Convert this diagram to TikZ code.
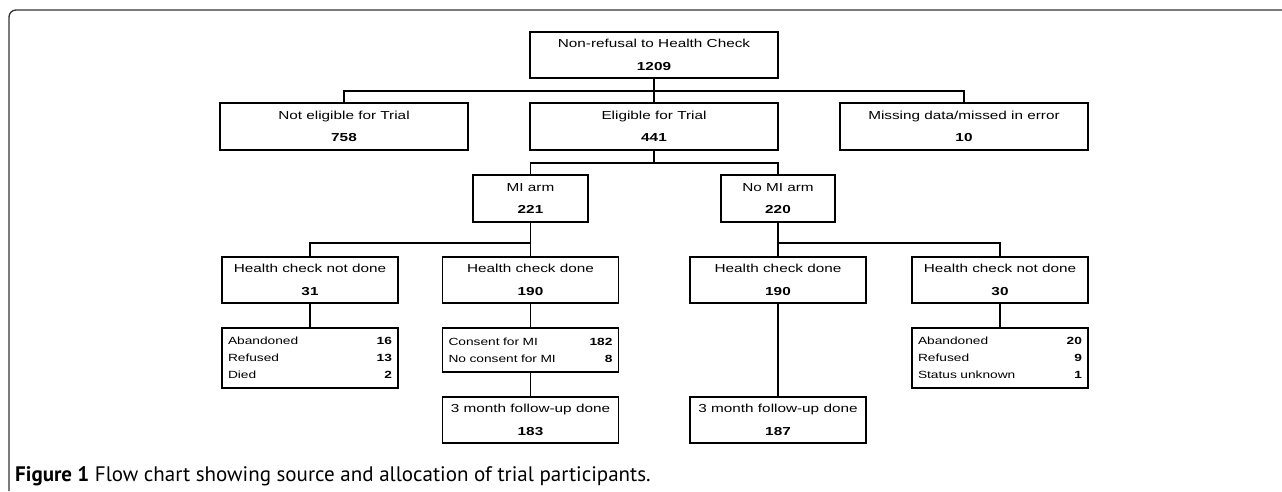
\documentclass[tikz,border=0pt]{standalone}
\usepackage{fontspec}
\setmainfont{Liberation Sans}
\newfontfamily\boxfont[FakeStretch=1.32]{Liberation Sans}
\newfontfamily\capfont{PT Sans}
\begin{document}
\begin{tikzpicture}[x=1pt,y=-1pt,
  titlebox/.style={draw=black, line width=1.8pt, inner sep=0pt, minimum height=46pt, align=center,
    font=\boxfont\fontsize{11.6}{22.5}\selectfont},
  listbox/.style={draw=black, line width=1.8pt, inner sep=0pt, align=left,
    font=\boxfont\fontsize{10.4}{17}\selectfont},
  conn/.style={line width=1.8pt, draw=black}]
\useasboundingbox (0,0) rectangle (1282,491);
% frame
\draw[line width=1.3pt, draw=black!80, rounded corners=7pt] (9,491) -- (9,10) -- (1282,10);

% row 1
\node[titlebox, minimum width=248pt] (top) at (654,55) {Non-refusal to Health Check\\\textbf{1209}};
% row 2
\node[titlebox, minimum width=248pt, minimum height=47pt] (notel) at (344,126.5) {Not eligible for Trial\\\textbf{758}};
\node[titlebox, minimum width=248pt, minimum height=47pt] (elig) at (654,126.5) {Eligible for Trial\\\textbf{441}};
\node[titlebox, minimum width=248pt, minimum height=47pt] (miss) at (964,126.5) {Missing data/missed in error\\\textbf{10}};
% row 3
\node[titlebox, minimum width=115pt, minimum height=47pt] (miarm) at (530.5,198.5) {MI arm\\\textbf{221}};
\node[titlebox, minimum width=114pt, minimum height=47pt] (nomiarm) at (778,198.5) {No MI arm\\\textbf{220}};
% row 4
\node[titlebox, minimum width=176pt] (hcnd1) at (310,280) {Health check not done\\\textbf{31}};
\node[titlebox, minimum width=176pt] (hcd1) at (530.5,280) {Health check done\\\textbf{190}};
\node[titlebox, minimum width=176pt] (hcd2) at (778,280) {Health check done\\\textbf{190}};
\node[titlebox, minimum width=176pt] (hcnd2) at (1000,280) {Health check not done\\\textbf{30}};
% row 5
\node[listbox, minimum width=176pt, minimum height=60pt, text width=164pt] (ab1) at (310,358)
  {Abandoned\hfill\textbf{16}\\Refused\hfill\textbf{13}\\Died\hfill\textbf{2}};
\node[listbox, minimum width=176pt, minimum height=44pt, text width=164pt] (cons) at (530.5,350)
  {Consent for MI\hfill\textbf{182}\\No consent for MI\hfill\textbf{8}};
\node[listbox, minimum width=176pt, minimum height=60pt, text width=164pt] (ab2) at (1000,358)
  {Abandoned\hfill\textbf{20}\\Refused\hfill\textbf{9}\\Status unknown\hfill\textbf{1}};
% row 6
\node[titlebox, minimum width=176pt] (fu1) at (530.5,420) {3 month follow-up done\\\textbf{183}};
\node[titlebox, minimum width=176pt] (fu2) at (778,420) {3 month follow-up done\\\textbf{187}};

% junctions
\coordinate (j1) at (654,91);
\coordinate (j2) at (654,163);
\coordinate (j3) at (530.5,243);
\coordinate (j4) at (778,243);

% connectors
\draw[conn] (top.south) -- (elig.north);
\draw[conn] (notel.north) |- (j1) -| (miss.north);
\draw[conn] (elig.south) -- (j2);
\draw[conn] (miarm.north) |- (j2) -| (nomiarm.north);
\draw[conn] (miarm.south) -- (hcd1.north);
\draw[conn] (hcnd1.north) |- (j3);
\draw[conn] (nomiarm.south) -- (hcd2.north);
\draw[conn] (hcnd2.north) |- (j4);
\draw[conn] (hcnd1.south) -- (ab1.north);
\draw[conn] (hcd1.south) -- (cons.north);
\draw[conn] (cons.south) -- (fu1.north);
\draw[conn] (hcd2.south) -- (fu2.north);
\draw[conn] (hcnd2.south) -- (ab2.north);

% caption
\node[anchor=base west, inner sep=0pt, font=\capfont\fontsize{21}{24}\selectfont, text=black] (cap) at (15,481)
  {\textbf{Figure 1} Flow chart showing source and allocation of trial participants.};
\end{tikzpicture}
\end{document}
